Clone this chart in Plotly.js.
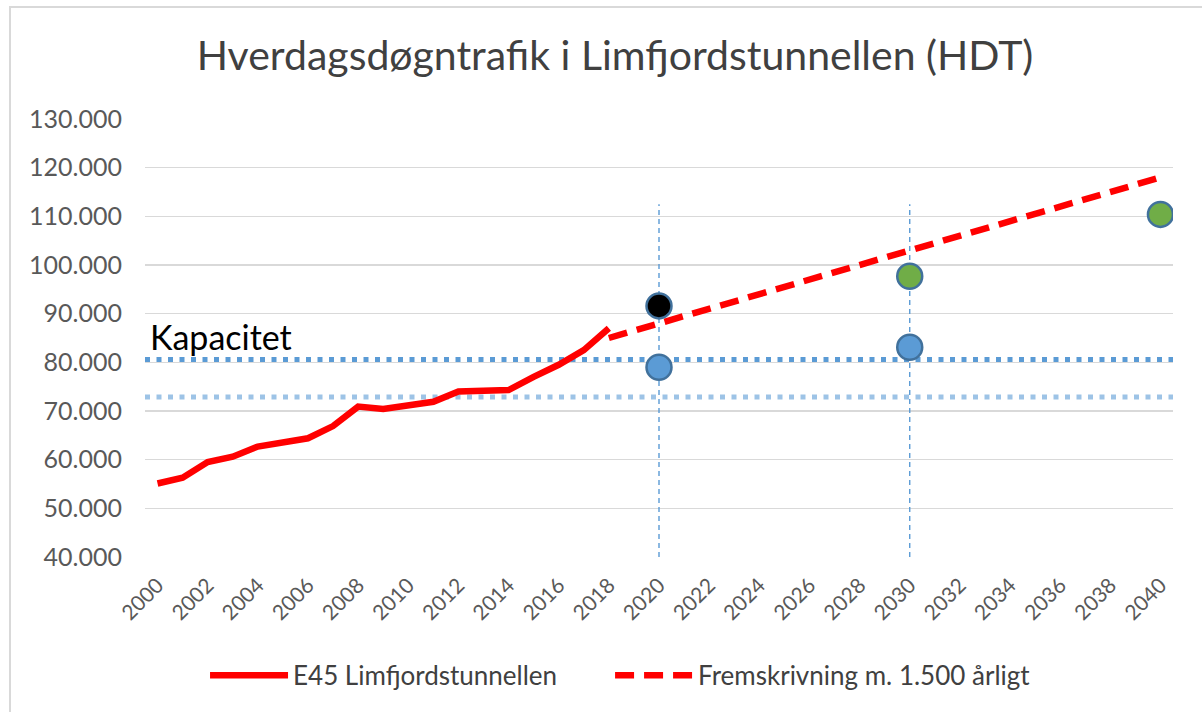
<!DOCTYPE html>
<html>
<head>
<meta charset="utf-8">
<script src="https://cdn.plot.ly/plotly-3.0.1.min.js"></script>
<style>
  html, body { margin: 0; padding: 0; background: #fff; overflow: hidden; }
  #chart { position: absolute; left: 0; top: 0; width: 1202px; height: 712px; }
  #frame { position: absolute; left: 9px; top: 6px; width: 1300px; height: 900px;
           border: 2px solid #d9d9d9; pointer-events: none; box-sizing: border-box; }
</style>
</head>
<body>
<div id="chart"></div>
<div id="frame"></div>
<script>
// ---- data ----
const histYears = [2000, 2001, 2002, 2003, 2004, 2005, 2006, 2007, 2008, 2009,
                   2010, 2011, 2012, 2013, 2014, 2015, 2016, 2017, 2018];
const histTraffic = [55100, 56300, 59500, 60600, 62700, 63500, 64400, 66900, 70900, 70400,
                     71000, 71900, 74000, 74300, 74300, 77000, 79500, 82500, 87000];

const projYears = [2018, 2019, 2020, 2021, 2022, 2023, 2024, 2025, 2026, 2027, 2028, 2029,
                   2030, 2031, 2032, 2033, 2034, 2035, 2036, 2037, 2038, 2039, 2040];
const projTraffic = [85000, 86500, 88000, 89500, 91000, 92500, 94000, 95500, 97000, 98500,
                     100000, 101500, 103000, 104500, 106000, 107500, 109000, 110500, 112000,
                     113500, 115000, 116500, 118000];

const blueYears = [2020, 2030];
const blueValues = [79000, 83100];
const blackYears = [2020];
const blackValues = [91600];
const greenYears = [2030, 2040];
const greenValues = [97700, 110400];

const capacityLevels = [80600, 72900];      // dotted horizontal lines
const guideYears = [2020, 2030];            // thin vertical dashed guides
const guideTop = 112500;

const seriesNames = ["E45 Limfjordstunnellen", "Fremskrivning m. 1.500 årligt"];
const chartTitle = "Hverdagsdøgntrafik i Limfjordstunnellen (HDT)";
const capacityLabel = "Kapacitet";

// ---- styles ----
const FONT = "Lato, 'Open Sans', sans-serif";
const markerBorder = { color: "#41719c", width: 2.5 };

const traces = [
  { x: histYears, y: histTraffic, type: "scatter", mode: "lines", name: seriesNames[0],
    legend: "legend", line: { color: "#ff0000", width: 6.5, shape: "linear" } },
  { x: projYears, y: projTraffic, type: "scatter", mode: "lines", name: seriesNames[1],
    legend: "legend2", line: { color: "#ff0000", width: 6.5, dash: "19px,10px" } },
  { x: blueYears, y: blueValues, type: "scatter", mode: "markers", showlegend: false,
    marker: { size: 25, color: "#5b9bd5", line: markerBorder } },
  { x: blackYears, y: blackValues, type: "scatter", mode: "markers", showlegend: false,
    marker: { size: 25, color: "#000000", line: markerBorder } },
  { x: greenYears, y: greenValues, type: "scatter", mode: "markers", showlegend: false,
    marker: { size: 25, color: "#70ad47", line: markerBorder } }
];

const capColors = ["#5b9bd5", "#9dc3e6"];
const shapes = [];
capacityLevels.forEach((v, i) => {
  shapes.push({ type: "line", xref: "paper", yref: "y", x0: 0, x1: 1, y0: v, y1: v,
    layer: "between", line: { color: capColors[i], width: 5, dash: "5px,6.5px" } });
});
guideYears.forEach(yr => {
  shapes.push({ type: "line", xref: "x", yref: "y", x0: yr, x1: yr, y0: 40000, y1: guideTop,
    layer: "between", line: { color: "#5b9bd5", width: 1.4, dash: "5px,4px" } });
});

const legendBase = {
  orientation: "h", xanchor: "left", xref: "paper",
  y: -0.27, yanchor: "middle", yref: "paper",
  font: { family: FONT, size: 26, color: "#404040" },
  itemwidth: 78, bgcolor: "rgba(0,0,0,0)"
};

const layout = {
  width: 1202, height: 712,
  paper_bgcolor: "#ffffff", plot_bgcolor: "#ffffff",
  margin: { l: 145, r: 29, t: 119, b: 155, pad: 0, autoexpand: false },
  separators: ",.",
  font: { family: FONT, color: "#595959" },
  title: { text: chartTitle, font: { family: FONT, size: 41, color: "#404040" },
           xref: "container", yref: "container", x: 0.5117, y: 0.922,
           xanchor: "center", yanchor: "middle" },
  xaxis: {
    range: [1999.5, 2040.5], tickmode: "linear", tick0: 2000, dtick: 2,
    tickangle: -45, showgrid: false, zeroline: false, showline: false, ticks: "",
    tickfont: { family: FONT, size: 21, color: "#595959" }, ticklabelstandoff: 11,
    automargin: false
  },
  yaxis: {
    range: [40000, 130000], tickmode: "linear", tick0: 40000, dtick: 10000,
    tickformat: ",d", showgrid: true, gridcolor: "#d9d9d9", gridwidth: 1.3,
    zeroline: false, showline: false, ticks: "",
    tickfont: { family: FONT, size: 25, color: "#595959" }, ticklabelstandoff: 22,
    automargin: false
  },
  showlegend: true,
  legend: Object.assign({}, legendBase, { x: 0.0584 }),
  legend2: Object.assign({}, legendBase, { x: 0.4524 }),
  shapes: shapes,
  annotations: [
    { text: capacityLabel, xref: "paper", yref: "y", x: 0, y: 85300,
      xanchor: "left", yanchor: "middle", xshift: 3, showarrow: false,
      font: { family: FONT, size: 34, color: "#000000" } }
  ]
};

Plotly.newPlot("chart", traces, layout, { displayModeBar: false, staticPlot: true });
</script>
</body>
</html>
